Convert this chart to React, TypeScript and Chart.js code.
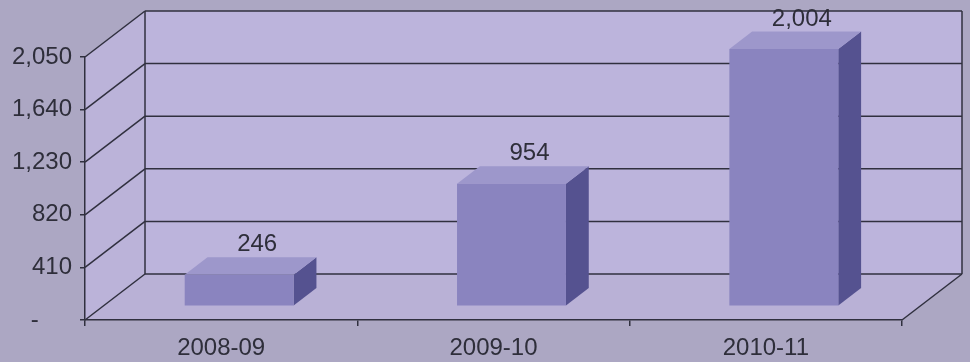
import React, { useEffect, useRef } from "react";
import { Chart, registerables } from "chart.js";

Chart.register(...registerables);

const categories = ["2008-09", "2009-10", "2010-11"];
const values = [246, 954, 2004];
const yMin = 0;
const yMax = 2050;
const yStep = 410;

const FONT = "'Liberation Sans', Arial, sans-serif";
const FONT_SIZE = 24;
const DEPTH_X = 60;
const DEPTH_Y = -46;
const BAR_F1 = 0.3;
const BAR_F2 = 0.68;

const COLORS = {
  bg: "#aca7c3",
  backWall: "#bcb4dc",
  sideWall: "#bbb3d9",
  floor: "#b9b1d6",
  line: "#30303f",
  barFront: "#8a84bf",
  barSide: "#555290",
  barTop: "#9d97cb",
  text: "#2e2e3a",
};

const threeD = {
  id: "threeD",
  beforeDraw(chart: any) {
    const { ctx, chartArea: ca, scales } = chart;
    const y = scales.y;
    const L = ca.left, R = ca.right, T = ca.top, B = ca.bottom;
    const dx = DEPTH_X, dy = DEPTH_Y;
    ctx.save();
    ctx.fillStyle = COLORS.bg;
    ctx.fillRect(0, 0, chart.width, chart.height);

    const poly = (pts: number[][], fill: string) => {
      ctx.beginPath();
      ctx.moveTo(pts[0][0], pts[0][1]);
      for (let i = 1; i < pts.length; i++) ctx.lineTo(pts[i][0], pts[i][1]);
      ctx.closePath();
      ctx.fillStyle = fill;
      ctx.fill();
    };
    poly([[L + dx, T + dy], [R + dx, T + dy], [R + dx, B + dy], [L + dx, B + dy]], COLORS.backWall);
    poly([[L, T], [L + dx, T + dy], [L + dx, B + dy], [L, B]], COLORS.sideWall);
    poly([[L, B], [R, B], [R + dx, B + dy], [L + dx, B + dy]], COLORS.floor);

    ctx.strokeStyle = COLORS.line;
    ctx.lineWidth = 1.5;
    const line = (x1: number, y1: number, x2: number, y2: number) => {
      ctx.beginPath();
      ctx.moveTo(x1, y1);
      ctx.lineTo(x2, y2);
      ctx.stroke();
    };
    for (let v = yMin; v <= yMax + 0.001; v += yStep) {
      const py = y.getPixelForValue(v);
      line(L + dx, py + dy, R + dx, py + dy);
      line(L, py, L + dx, py + dy);
    }
    line(L + dx, T + dy, L + dx, B + dy);
    line(R + dx, T + dy, R + dx, B + dy);
    line(R, B, R + dx, B + dy);
    ctx.restore();
  },
  afterDatasetsDraw(chart: any) {
    const { ctx } = chart;
    const meta = chart.getDatasetMeta(0);
    const ox1 = DEPTH_X * BAR_F1, oy1 = DEPTH_Y * BAR_F1;
    const ox2 = DEPTH_X * BAR_F2, oy2 = DEPTH_Y * BAR_F2;
    ctx.save();
    meta.data.forEach((el: any, i: number) => {
      const { x, y, base, width } = el.getProps(["x", "y", "base", "width"], true);
      const l = x - width / 2, r = x + width / 2;
      const poly = (pts: number[][], fill: string) => {
        ctx.beginPath();
        ctx.moveTo(pts[0][0], pts[0][1]);
        for (let k = 1; k < pts.length; k++) ctx.lineTo(pts[k][0], pts[k][1]);
        ctx.closePath();
        ctx.fillStyle = fill;
        ctx.fill();
      };
      poly([[r + ox1, y + oy1], [r + ox2, y + oy2], [r + ox2, base + oy2], [r + ox1, base + oy1]], COLORS.barSide);
      poly([[l + ox1, y + oy1], [l + ox2, y + oy2], [r + ox2, y + oy2], [r + ox1, y + oy1]], COLORS.barTop);
      poly([[l + ox1, y + oy1], [r + ox1, y + oy1], [r + ox1, base + oy1], [l + ox1, base + oy1]], COLORS.barFront);

      ctx.fillStyle = COLORS.text;
      ctx.font = `${FONT_SIZE}px ${FONT}`;
      ctx.textAlign = "center";
      ctx.textBaseline = "middle";
      ctx.fillText(values[i].toLocaleString("en-US"), x + DEPTH_X * 0.6, y - 44);
    });
    ctx.restore();
  },
};

export default function App() {
  const ref = useRef<HTMLCanvasElement | null>(null);
  useEffect(() => {
    if (!ref.current) return;
    const chart = new Chart(ref.current, {
      type: "bar",
      data: {
        labels: categories,
        datasets: [
          {
            data: values,
            backgroundColor: "rgba(0,0,0,0)",
            barPercentage: 0.4,
            categoryPercentage: 1,
          },
        ],
      },
      options: {
        animation: false,
        responsive: false,
        maintainAspectRatio: false,
        layout: { padding: { top: 57, right: 68, left: 0, bottom: 0 } },
        plugins: { legend: { display: false }, tooltip: { enabled: false } },
        scales: {
          x: {
            grid: {
              drawOnChartArea: false,
              drawTicks: true,
              tickLength: 6,
              color: COLORS.line,
              lineWidth: 1.5,
            },
            border: { display: true, color: COLORS.line, width: 1.5 },
            ticks: {
              color: COLORS.text,
              font: { family: FONT, size: FONT_SIZE },
              padding: 8,
              maxRotation: 0,
            },
            afterFit: (s: any) => {
              s.height = 42;
            },
          },
          y: {
            min: yMin,
            max: yMax,
            grid: {
              drawOnChartArea: false,
              drawTicks: true,
              tickLength: 5,
              color: COLORS.line,
              lineWidth: 1.5,
            },
            border: { display: true, color: COLORS.line, width: 1.5 },
            ticks: {
              stepSize: yStep,
              color: COLORS.text,
              font: { family: FONT, size: FONT_SIZE },
              padding: 8,
              callback: (v: any) => (v === 0 ? "-     " : Number(v).toLocaleString("en-US")),
            },
            afterFit: (s: any) => {
              s.width = 85;
            },
          },
        },
      },
      plugins: [threeD],
    });
    return () => chart.destroy();
  }, []);
  return (
    <div style={{ position: "fixed", left: 0, top: 0, width: 970, height: 362, background: COLORS.bg }}>
      <canvas ref={ref} width={970} height={362} style={{ display: "block", width: 970, height: 362 }} />
    </div>
  );
}
